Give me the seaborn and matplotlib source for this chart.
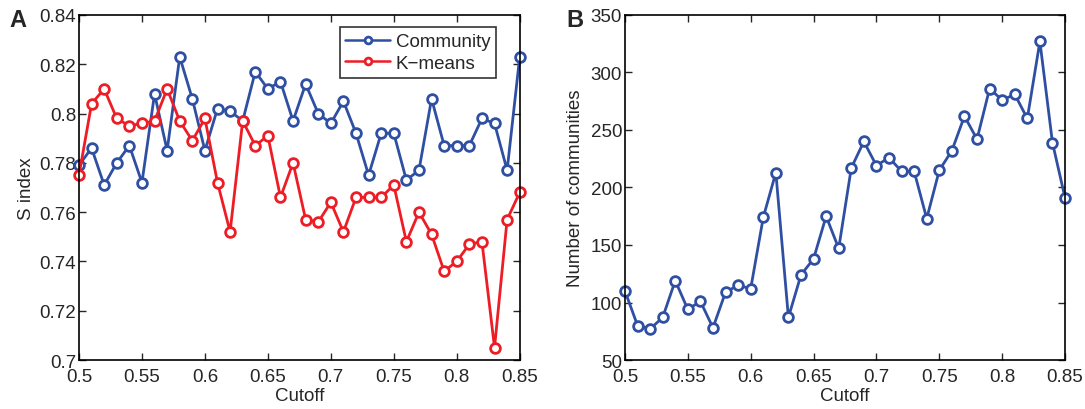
import numpy as np
import pandas as pd
import matplotlib
matplotlib.use("Agg")
import matplotlib.pyplot as plt
import seaborn as sns

cutoff = [round(0.50 + 0.01 * i, 2) for i in range(36)]

s_community = [0.779, 0.786, 0.771, 0.780, 0.787, 0.772, 0.808, 0.785, 0.823, 0.806,
               0.785, 0.802, 0.801, 0.797, 0.817, 0.810, 0.813, 0.797, 0.812, 0.800,
               0.796, 0.805, 0.792, 0.775, 0.792, 0.792, 0.773, 0.777, 0.806, 0.787,
               0.787, 0.787, 0.798, 0.796, 0.777, 0.823]
s_kmeans = [0.775, 0.804, 0.810, 0.798, 0.795, 0.796, 0.797, 0.810, 0.797, 0.789,
            0.798, 0.772, 0.752, 0.797, 0.787, 0.791, 0.766, 0.780, 0.757, 0.756,
            0.764, 0.752, 0.766, 0.766, 0.766, 0.771, 0.748, 0.760, 0.751, 0.736,
            0.740, 0.747, 0.748, 0.705, 0.757, 0.768]
n_communities = [110, 80, 77, 87, 119, 94, 101, 78, 109, 115,
                 112, 174, 213, 87, 124, 138, 175, 147, 217, 240,
                 219, 226, 214, 214, 173, 215, 232, 262, 242, 286,
                 276, 281, 260, 327, 239, 191]

blue = "#2f4fa2"
red = "#ee1c25"

sns.set_style("ticks")
plt.rcParams["font.family"] = ["Liberation Sans", "DejaVu Sans"]
plt.rcParams["xtick.direction"] = "in"
plt.rcParams["ytick.direction"] = "in"

fig = plt.figure(figsize=(10.85, 4.1), dpi=100)
ax1 = fig.add_axes([0.0728, 0.1195, 0.4062, 0.8415])
ax2 = fig.add_axes([0.576, 0.1195, 0.4056, 0.8415])

dfa = pd.DataFrame({"Cutoff": cutoff * 2,
                    "S": s_community + s_kmeans,
                    "Method": ["Community"] * 36 + ["K\u2212means"] * 36})
sns.lineplot(data=dfa, x="Cutoff", y="S", hue="Method",
             palette=[blue, red], marker="o", markersize=7,
             markerfacecolor="white", markeredgewidth=2, linewidth=2,
             legend=False, ax=ax1)
for ln, c in zip(ax1.lines, [blue, red]):
    ln.set_markeredgecolor(c)
    ln.set_clip_on(False)

dfb = pd.DataFrame({"Cutoff": cutoff, "N": n_communities})
sns.lineplot(data=dfb, x="Cutoff", y="N", color=blue, marker="o",
             markersize=7, markerfacecolor="white", markeredgecolor=blue,
             markeredgewidth=2, linewidth=2, ax=ax2)
for ln in ax2.lines:
    ln.set_clip_on(False)

ax1.set_xlim(0.5, 0.85)
ax1.set_ylim(0.70, 0.84)
ax1.set_yticks([0.70, 0.72, 0.74, 0.76, 0.78, 0.80, 0.82, 0.84])
ax1.set_yticklabels(["0.7", "0.72", "0.74", "0.76", "0.78", "0.8", "0.82", "0.84"])
ax1.set_ylabel("S index", fontsize=13.5, labelpad=3)

ax2.set_xlim(0.5, 0.85)
ax2.set_ylim(50, 350)
ax2.set_yticks(range(50, 351, 50))
ax2.set_ylabel("Number of communities", fontsize=13.5, labelpad=5)

xt = [0.5, 0.55, 0.6, 0.65, 0.7, 0.75, 0.8, 0.85]
for ax in (ax1, ax2):
    ax.set_xticks(xt)
    ax.set_xticklabels(["0.5", "0.55", "0.6", "0.65", "0.7", "0.75", "0.8", "0.85"])
    ax.set_xlabel("Cutoff", fontsize=13.5, labelpad=1)
    ax.tick_params(labelsize=13.5, top=True, right=True, length=5, width=1)
    ax.tick_params(axis="x", pad=6)
    ax.tick_params(axis="y", pad=2)
    for sp in ax.spines.values():
        sp.set_visible(True)
        sp.set_linewidth(1.2)
        sp.set_color("black")

leg = ax1.legend(handles=ax1.lines[:2], labels=["Community", "K\u2212means"],
                 loc="upper right", bbox_to_anchor=(0.955, 0.975), fontsize=13.5,
                 frameon=True, fancybox=False, edgecolor="black",
                 borderpad=0.3, handlelength=2.4, handletextpad=0.3,
                 labelspacing=0.25, markerscale=0.7, borderaxespad=0.2)
leg.get_frame().set_linewidth(1.2)
for h in leg.legend_handles:
    h.set_linewidth(1.8)

fig.text(0.009, 0.935, "A", fontsize=17, fontweight="bold")
fig.text(0.522, 0.935, "B", fontsize=17, fontweight="bold")

fig.savefig("out.png", dpi=100)
